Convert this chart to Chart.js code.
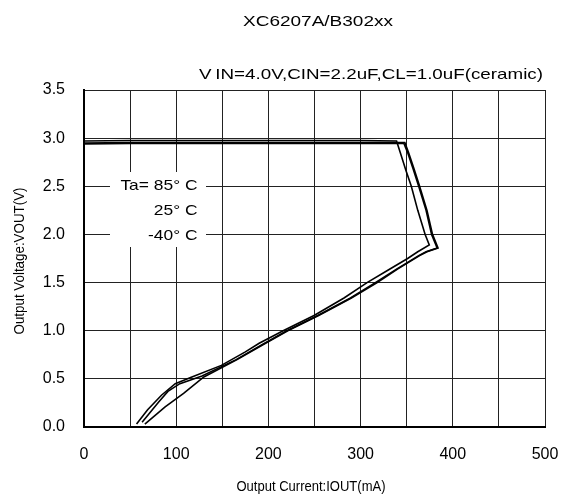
<!DOCTYPE html>
<html>
<head>
<meta charset="utf-8">
<script src="https://cdn.jsdelivr.net/npm/chart.js@4/dist/chart.umd.min.js"></script>
<style>
  html, body { margin: 0; padding: 0; background: #fff; }
  #wrap { width: 563px; height: 498px; }
</style>
</head>
<body>
<div id="wrap"><canvas id="c" width="563" height="498"></canvas></div>
<script>
// output current (mA) vs output voltage (V)
var iout85 = [0, 50, 100, 150, 200, 250, 300, 339, 343, 349, 355, 362, 370, 374.5, 362, 351, 330, 307, 282, 250, 216, 190, 175, 149, 117, 99, 84, 69, 57];
var vout85 = [2.97, 2.975, 2.975, 2.975, 2.975, 2.975, 2.975, 2.97, 2.85, 2.67, 2.50, 2.25, 2.00, 1.89, 1.82, 1.75, 1.63, 1.50, 1.34, 1.16, 1.00, 0.87, 0.78, 0.64, 0.52, 0.45, 0.33, 0.18, 0.03];

var iout25 = [0, 50, 100, 200, 300, 348, 352, 358, 364, 372, 378, 384, 372, 364, 340, 318, 290, 255, 221, 195, 166, 130, 108, 88, 66];
var vout25 = [2.95, 2.955, 2.955, 2.955, 2.955, 2.955, 2.85, 2.68, 2.50, 2.25, 2.00, 1.86, 1.82, 1.78, 1.64, 1.50, 1.34, 1.16, 1.00, 0.86, 0.70, 0.52, 0.35, 0.21, 0.03];

var ioutM40 = [0, 50, 100, 200, 300, 347, 351, 357, 363, 371, 377, 383, 371, 363, 339, 316, 289, 254, 220, 194, 165, 128, 104, 91, 81, 63];
var voutM40 = [2.94, 2.945, 2.945, 2.945, 2.945, 2.945, 2.85, 2.68, 2.50, 2.25, 2.00, 1.86, 1.82, 1.78, 1.64, 1.50, 1.34, 1.16, 1.00, 0.86, 0.70, 0.53, 0.45, 0.37, 0.26, 0.05];

var xTicks = [0, 100, 200, 300, 400, 500];
var yTicks = [0.0, 0.5, 1.0, 1.5, 2.0, 2.5, 3.0, 3.5];
var tempLabels = ['Ta= 85\u00b0 C', '25\u00b0 C', '-40\u00b0 C'];

var FONT = '"Liberation Sans", Arial, sans-serif';

function pts(xs, ys) {
    return xs.map(function (x, i) { return { x: x, y: ys[i] }; });
}

function curve(xs, ys) {
    return {
        data: pts(xs, ys),
        showLine: true,
        borderColor: '#000',
        borderWidth: 1.6,
        pointRadius: 0,
        tension: 0
    };
}

// text squeezed/stretched to the width it has in the picture
function fitText(ctx, str, x, y, w, size, align) {
    ctx.save();
    ctx.font = size + 'px ' + FONT;
    var m = ctx.measureText(str).width;
    var sx = w / m;
    ctx.translate(x, y);
    ctx.scale(sx, 1);
    ctx.textAlign = align || 'center';
    ctx.textBaseline = 'middle';
    ctx.fillStyle = '#000';
    ctx.fillText(str, 0, 0);
    ctx.restore();
}

var labelsPlugin = {
    id: 'labels',
    beforeDatasetsDraw: function (chart) {
        var ctx = chart.ctx;
        ctx.save();
        ctx.fillStyle = '#fff';
        ctx.fillRect(110, 172, 96, 75);
        ctx.restore();
        var rows = [186, 211, 236];
        tempLabels.forEach(function (t, i) {
            ctx.save();
            ctx.font = '15px ' + FONT;
            var w = ctx.measureText(t).width * 1.16;
            ctx.restore();
            fitText(ctx, t, 197.5, rows[i], w, 15, 'right');
        });
    },
    afterDraw: function (chart) {
        var ctx = chart.ctx;
        fitText(ctx, 'XC6207A/B302xx', 318, 22, 150, 15);
        fitText(ctx, 'V\u2009IN=4.0V,CIN=2.2uF,CL=1.0uF(ceramic)', 371, 75, 344, 14.5);
        fitText(ctx, 'Output Current:IOUT(mA)', 311, 487, 149, 14);
        ctx.save();
        ctx.translate(20, 261);
        ctx.rotate(-Math.PI / 2);
        fitText(ctx, 'Output Voltage:VOUT(V)', 0, 0, 147, 14);
        ctx.restore();
    }
};

new Chart(document.getElementById('c'), {
    type: 'scatter',
    data: {
        datasets: [
            curve(iout85, vout85),
            curve(iout25, vout25),
            curve(ioutM40, voutM40)
        ]
    },
    options: {
        responsive: false,
        animation: false,
        events: [],
        layout: { padding: { left: 0, right: 18, top: 90, bottom: 0 } },
        plugins: {
            legend: { display: false },
            tooltip: { enabled: false },
            title: { display: false }
        },
        scales: {
            x: {
                type: 'linear',
                min: 0,
                max: 500,
                afterFit: function (s) {
                    s.height = 71;
                    s.paddingLeft = 0;
                    s.paddingRight = 0;
                },
                ticks: {
                    stepSize: 50,
                    maxRotation: 0,
                    autoSkip: false,
                    padding: 18,
                    color: '#000',
                    font: { family: FONT, size: 16 },
                    callback: function (v) { return xTicks.indexOf(v) >= 0 ? String(v) : ''; }
                },
                grid: { color: '#222', lineWidth: 1, drawTicks: false },
                border: { display: true, color: '#000', width: 2 }
            },
            y: {
                type: 'linear',
                min: 0,
                max: 3.5,
                afterFit: function (s) {
                    s.width = 84;
                    s.paddingTop = 0;
                    s.paddingBottom = 0;
                },
                ticks: {
                    stepSize: 0.5,
                    padding: 19,
                    color: '#000',
                    font: { family: FONT, size: 16 },
                    callback: function (v) { return yTicks.indexOf(v) >= 0 ? v.toFixed(1) : ''; }
                },
                grid: { color: '#222', lineWidth: 1, drawTicks: false },
                border: { display: true, color: '#000', width: 2 }
            }
        }
    },
    plugins: [labelsPlugin]
});
</script>
</body>
</html>
